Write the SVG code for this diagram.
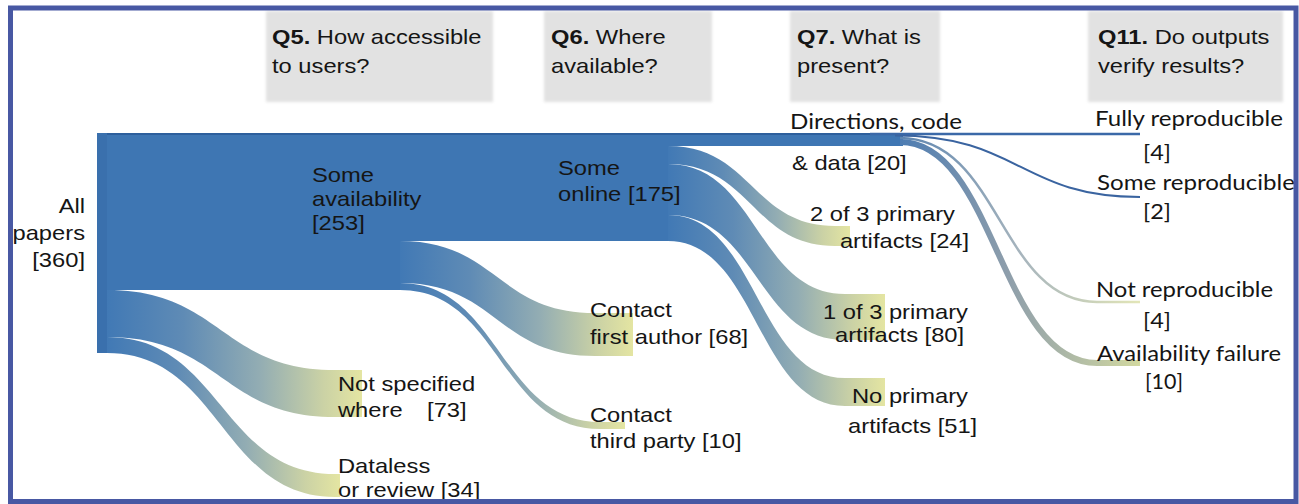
<svg xmlns="http://www.w3.org/2000/svg" width="1299" height="504" viewBox="0 0 1299 504">
  <style>
    .lbl { font-family: "Liberation Sans", Arial, Helvetica, sans-serif; font-size: 21px; fill: #151515; }
    .cal { font-family: Lato, "Liberation Sans", sans-serif; font-size: 20.6px; fill: #151515; }
    .hdrbox { fill: #e2e2e2; }
    .band { fill: #3e76b3; }
    .term { fill: url(#gTerm); }
    .b { font-weight: bold; }
  </style>
  <defs>
    <filter id="soft" x="-5%" y="-5%" width="110%" height="110%">
      <feGaussianBlur stdDeviation="1.5"/>
    </filter>
    <linearGradient id="gTerm" x1="0" y1="0" x2="1" y2="0">
      <stop offset="0" stop-color="#4179b5"/>
      <stop offset="0.3" stop-color="#5f8bb5"/>
      <stop offset="0.6" stop-color="#93adb3"/>
      <stop offset="0.85" stop-color="#cbd2a5"/>
      <stop offset="1" stop-color="#e4e5a2"/>
    </linearGradient>
    <linearGradient id="gNot" x1="0" y1="0" x2="1" y2="0">
      <stop offset="0" stop-color="#5d85b0"/>
      <stop offset="0.5" stop-color="#a6b4bd"/>
      <stop offset="1" stop-color="#e3e6b8"/>
    </linearGradient>
    <linearGradient id="gAvail" x1="0" y1="0" x2="1" y2="0">
      <stop offset="0" stop-color="#4d7cb2"/>
      <stop offset="0.45" stop-color="#8e9eab"/>
      <stop offset="1" stop-color="#d2d8a0"/>
    </linearGradient>
  </defs>

  <rect x="0" y="0" width="1299" height="504" fill="#ffffff"/>

  <!-- headers -->
  <g id="q5">
    <rect class="hdrbox" x="266" y="11" width="227" height="91" filter="url(#soft)"/>
    <text class="lbl" transform="translate(272,44) scale(1.13,1)"><tspan x="0" y="0"><tspan class="b">Q5.</tspan> How accessible</tspan><tspan x="0" y="29">to users?</tspan></text>
  </g>
  <g id="q6">
    <rect class="hdrbox" x="544" y="11" width="168" height="91" filter="url(#soft)"/>
    <text class="lbl" transform="translate(551,44) scale(1.13,1)"><tspan x="0" y="0"><tspan class="b">Q6.</tspan> Where</tspan><tspan x="0" y="29">available?</tspan></text>
  </g>
  <g id="q7">
    <rect class="hdrbox" x="790" y="11" width="150" height="91" filter="url(#soft)"/>
    <text class="lbl" transform="translate(797,44) scale(1.13,1)"><tspan x="0" y="0"><tspan class="b">Q7.</tspan> What is</tspan><tspan x="0" y="29">present?</tspan></text>
  </g>
  <g id="q11">
    <rect class="hdrbox" x="1088" y="11" width="195" height="91" filter="url(#soft)"/>
    <text class="lbl" transform="translate(1098,44) scale(1.13,1)"><tspan x="0" y="0"><tspan class="b">Q11.</tspan> Do outputs</tspan><tspan x="0" y="29">verify results?</tspan></text>
  </g>

  <!-- connectors -->
  <g id="links">
    <!-- straight bands: All -> Some availability -> Some online -> Directions -->
    <path class="band" d="M97 133 H903 V146 H668 V241 H400 V290 H107 V353 H97 Z"/>
    <rect x="97" y="133" width="806" height="2" fill="#2d5f9c"/>
    <!-- All -> Not specified -->
    <path class="term" d="M107 290 C221 290 221 370 335 370 L362 370 L362 417 L335 417 C221 417 221 337 107 337 Z"/>
    <!-- All -> Dataless -->
    <path class="term" d="M107 337 C221 337 221 474 335 474 L340 474 L340 497 L335 497 C221 497 221 353 107 353 Z"/>
    <!-- Some availability -> Contact first author -->
    <path class="term" d="M400 241 C497 241 497 313 595 313 L633 313 L633 356 L595 356 C497 356 497 283 400 283 Z"/>
    <!-- Some availability -> Contact third party -->
    <path class="term" d="M400 283 C500 283 500 422 600 422 L625 422 L625 429 L600 429 C500 429 500 290 400 290 Z"/>
    <!-- Some online -> 2 of 3 -->
    <path class="term" d="M668 146 C752 146 752 226 835 226 L850 226 L850 246 L835 246 C752 246 752 164 668 164 Z"/>
    <!-- Some online -> 1 of 3 -->
    <path class="term" d="M668 164 C757 164 757 294 845 294 L885 294 L885 340 L845 340 C757 340 757 215 668 215 Z"/>
    <!-- Some online -> No primary -->
    <path class="term" d="M668 215 C757 215 757 378 845 378 L885 378 L885 406 L845 406 C757 406 757 241 668 241 Z"/>
    <!-- Directions -> Q11 -->
    <path d="M870 134 H1140" fill="none" stroke="#3b69a8" stroke-width="2.5"/>
    <path d="M895 135.5 C1020 135.5 1020 197 1140 197" fill="none" stroke="#3a64a0" stroke-width="2"/>
    <path d="M900 138 C1000 138 1000 302 1097 302 L1140 302" fill="none" stroke="url(#gNot)" stroke-width="2.5"/>
    <path d="M900 142 C995 142 1000 363 1097 363 L1140 363" fill="none" stroke="url(#gAvail)" stroke-width="6"/>
  </g>

  <!-- nodes -->
  <g id="node-all">
    <rect x="97" y="133" width="10" height="220" fill="#3a70ad"/>
    <text class="lbl" text-anchor="end" transform="translate(85,213) scale(1.13,1)"><tspan x="0" y="0">All</tspan><tspan x="0" y="27">papers</tspan><tspan x="0" y="54">[360]</tspan></text>
  </g>
  <g id="node-some-availability">
    <text class="lbl" transform="translate(312,182) scale(1.13,1)"><tspan x="0" y="0">Some</tspan><tspan x="0" y="24">availability</tspan><tspan x="0" y="48">[253]</tspan></text>
  </g>
  <g id="node-not-specified">
    <text class="lbl" transform="translate(338,391) scale(1.13,1)"><tspan x="0" y="0">Not specified</tspan><tspan x="0" y="26">where</tspan><tspan x="78.8" y="26">[73]</tspan></text>
  </g>
  <g id="node-dataless">
    <text class="lbl" transform="translate(338,473) scale(1.13,1)"><tspan x="0" y="0">Dataless</tspan><tspan x="0" y="24">or review [34]</tspan></text>
  </g>
  <g id="node-some-online">
    <text class="lbl" transform="translate(558,175) scale(1.13,1)"><tspan x="0" y="0">Some</tspan><tspan x="0" y="26">online [175]</tspan></text>
  </g>
  <g id="node-contact-first">
    <text class="lbl" transform="translate(590,317) scale(1.13,1)"><tspan x="0" y="0">Contact</tspan><tspan x="0" y="27">first author [68]</tspan></text>
  </g>
  <g id="node-contact-third">
    <text class="lbl" transform="translate(590,422) scale(1.13,1)"><tspan x="0" y="0">Contact</tspan><tspan x="0" y="26">third party [10]</tspan></text>
  </g>
  <g id="node-directions">
    <text class="cal" x="790" y="129" textLength="172" lengthAdjust="spacingAndGlyphs">Directions, code</text>
    <text class="lbl" transform="translate(792,170) scale(1.13,1)">&amp; data [20]</text>
  </g>
  <g id="node-2of3">
    <text class="lbl" transform="translate(810,221) scale(1.13,1)"><tspan x="0" y="0">2 of 3 primary</tspan><tspan x="26.5" y="27">artifacts [24]</tspan></text>
  </g>
  <g id="node-1of3">
    <text class="lbl" transform="translate(823,319) scale(1.13,1)"><tspan x="0" y="0">1 of 3 primary</tspan><tspan x="10.6" y="23">artifacts [80]</tspan></text>
  </g>
  <g id="node-no-primary">
    <text class="lbl" transform="translate(852,403) scale(1.13,1)"><tspan x="0" y="0">No primary</tspan><tspan x="-3.5" y="30">artifacts [51]</tspan></text>
  </g>
  <g id="node-fully">
    <text class="cal" x="1095" y="126" textLength="188" lengthAdjust="spacingAndGlyphs">Fully reproducible</text>
    <text class="cal" x="1143" y="160" textLength="28" lengthAdjust="spacingAndGlyphs">[4]</text>
  </g>
  <g id="node-some-reproducible">
    <text class="cal" x="1097" y="190" textLength="198" lengthAdjust="spacingAndGlyphs">Some reproducible</text>
    <text class="cal" x="1143" y="219" textLength="28" lengthAdjust="spacingAndGlyphs">[2]</text>
  </g>
  <g id="node-not-reproducible">
    <text class="cal" x="1096" y="297" textLength="177" lengthAdjust="spacingAndGlyphs">Not reproducible</text>
    <text class="cal" x="1143" y="328" textLength="28" lengthAdjust="spacingAndGlyphs">[4]</text>
  </g>
  <g id="node-availability-failure">
    <text class="cal" x="1097" y="361" textLength="184" lengthAdjust="spacingAndGlyphs">Availability failure</text>
    <text class="cal" x="1145" y="389" textLength="38" lengthAdjust="spacingAndGlyphs">[10]</text>
  </g>

  <!-- frame -->
  <rect x="10.5" y="8" width="1285.5" height="493.5" fill="none" stroke="#4858a3" stroke-width="5"/>
</svg>
